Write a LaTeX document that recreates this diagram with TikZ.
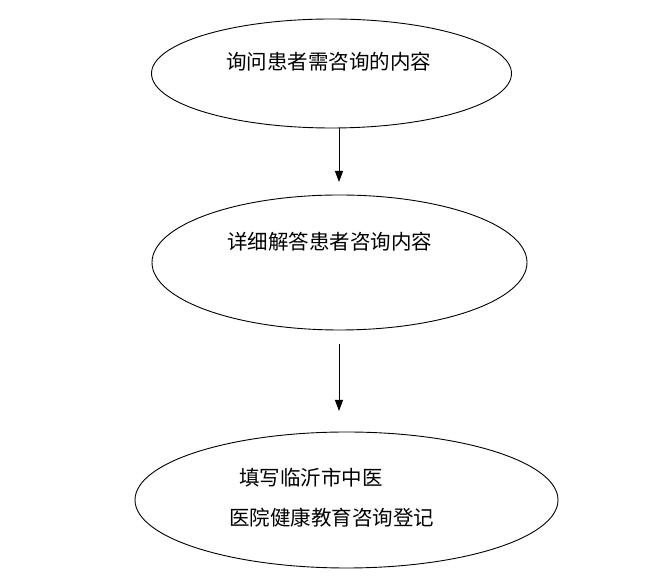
\documentclass[tikz,border=0pt]{standalone}
\usepackage{fontspec}
\usepackage{tikz}
\usetikzlibrary{arrows.meta}
\usetikzlibrary{shapes.geometric}
\setmainfont{Noto Sans CJK SC}

\begin{document}
\begin{tikzpicture}[x=1pt,y=1pt,
    oval/.style={draw,ellipse,line width=.9pt,inner sep=0pt},
    flow/.style={-{Triangle[length=11pt,width=8pt]},line width=.9pt},
    words/.style={anchor=west,inner sep=0pt,font=\fontsize{20.5}{24}\selectfont}]
  \useasboundingbox (0,0) rectangle (662,586);
  \node (ask) [oval,minimum width=360,minimum height=109] at (331.5,512.5) {};
  \node (reply) [oval,minimum width=375,minimum height=135] at (339.5,323.5) {};
  \node (record) [oval,minimum width=423,minimum height=136] at (346.5,86) {};

  \node (askt) [words] at (226,524) {询问患者需咨询的内容};
  \node (replyt) [words] at (227,344) {详细解答患者咨询内容};
  \node (recordta) [words] at (239,108) {填写临沂市中医};
  \node (recordtb) [words] at (229,68) {医院健康教育咨询登记};

  \path (339,458) coordinate (askout) {};
  \path (339,404) coordinate (replyin) {};
  \draw[flow] (askout) -- (replyin);
  \path (339,242) coordinate (replyout) {};
  \path (339,175) coordinate (recordin) {};
  \draw[flow] (replyout) -- (recordin);
\end{tikzpicture}
\end{document}
